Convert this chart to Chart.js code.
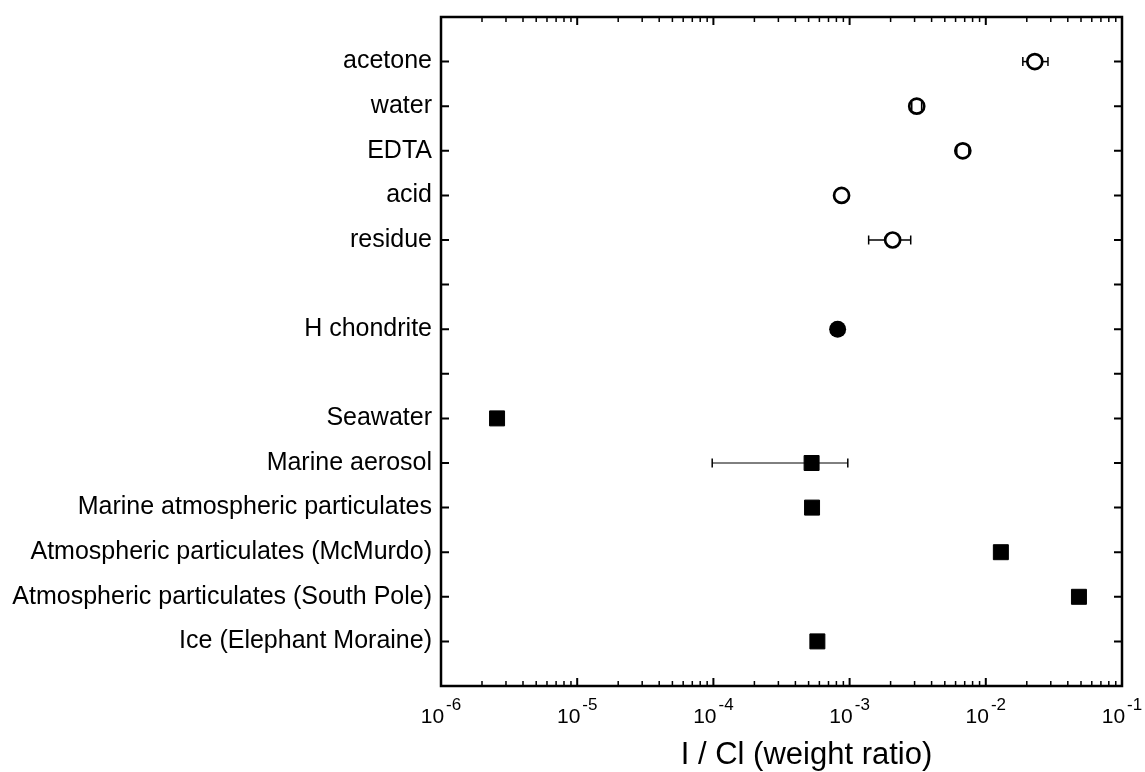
<!DOCTYPE html>
<html>
<head>
<meta charset="utf-8">
<script src="https://cdn.jsdelivr.net/npm/chart.js@4.4.1/dist/chart.umd.min.js"></script>
<style>
  html, body { margin: 0; padding: 0; background: #fff; }
  #wrap { width: 1145px; height: 772px; position: relative; }
</style>
</head>
<body>
<div id="wrap"><canvas id="c"></canvas></div>
<script>
// ---- Data ----
const rowLabels = ['', 'acetone', 'water', 'EDTA', 'acid', 'residue', '', 'H chondrite', '',
  'Seawater', 'Marine aerosol', 'Marine atmospheric particulates',
  'Atmospheric particulates (McMurdo)', 'Atmospheric particulates (South Pole)',
  'Ice (Elephant Moraine)', ''];

// open circles (extraction fractions)
const openCats   = ['acetone', 'water', 'EDTA', 'acid', 'residue'];
const openValues = [0.0229, 0.00311, 0.00678, 0.000873, 0.00207];
const openLow    = [0.0187, 0.00286, 0.00612, null, 0.00138];
const openHigh   = [0.0286, 0.00338, 0.00751, null, 0.00281];

// filled circle
const chondCats   = ['H chondrite'];
const chondValues = [0.000817];

// filled squares
const sqCats   = ['Seawater', 'Marine aerosol', 'Marine atmospheric particulates',
  'Atmospheric particulates (McMurdo)', 'Atmospheric particulates (South Pole)', 'Ice (Elephant Moraine)'];
const sqValues = [2.58e-6, 0.000526, 0.00053, 0.0129, 0.0483, 0.00058];
const sqLow    = [null, 0.000098, null, null, null, null];
const sqHigh   = [null, 0.00097, null, null, null, null];

// x axis ticks
const xDecades   = [1e-6, 1e-5, 1e-4, 1e-3, 1e-2, 1e-1];
const xExponents = ['-6', '-5', '-4', '-3', '-2', '-1'];
const xTitle = 'I / Cl (weight ratio)';

const FONT = "'Liberation Sans', Arial, Helvetica, sans-serif";

function pts(cats, vals) {
  return cats.map((c, i) => ({ x: vals[i], y: rowLabels.indexOf(c) }));
}

const framePlugin = {
  id: 'frame',
  beforeDatasetsDraw(chart) {
    const ctx = chart.ctx;
    const xs = chart.scales.x, ys = chart.scales.y;
    ctx.save();
    ctx.strokeStyle = '#000';
    chart.data.datasets.forEach(ds => {
      if (!ds.errLow) return;
      ds.data.forEach((p, i) => {
        const lo = ds.errLow[i], hi = ds.errHigh[i];
        if (lo == null || hi == null) return;
        const y = ys.getPixelForValue(p.y);
        ctx.lineWidth = ds.errWidth[i];
        ctx.beginPath();
        ctx.moveTo(xs.getPixelForValue(lo), y);
        ctx.lineTo(xs.getPixelForValue(hi), y);
        ctx.stroke();
      });
    });
    ctx.restore();
  },
  afterDatasetsDraw(chart) {
    const ctx = chart.ctx;
    const xs = chart.scales.x, ys = chart.scales.y;
    ctx.save();
    ctx.strokeStyle = '#000';
    chart.data.datasets.forEach(ds => {
      if (!ds.errLow) return;
      ds.data.forEach((p, i) => {
        const lo = ds.errLow[i], hi = ds.errHigh[i];
        if (lo == null || hi == null) return;
        const y = ys.getPixelForValue(p.y);
        ctx.lineWidth = 1.5;
        [lo, hi].forEach(v => {
          const x = xs.getPixelForValue(v);
          ctx.beginPath();
          ctx.moveTo(x, y - 4.5);
          ctx.lineTo(x, y + 4.5);
          ctx.stroke();
        });
      });
    });
    ctx.restore();
  },
  afterDraw(chart) {
    const ctx = chart.ctx;
    const a = chart.chartArea;
    const xs = chart.scales.x, ys = chart.scales.y;
    ctx.save();
    ctx.strokeStyle = '#000';
    // ticks
    ctx.lineWidth = 2;
    for (let v = 1; v <= 14; v++) {
      const y = ys.getPixelForValue(v);
      ctx.beginPath();
      ctx.moveTo(a.left, y); ctx.lineTo(a.left + 8, y);
      ctx.moveTo(a.right, y); ctx.lineTo(a.right - 8, y);
      ctx.stroke();
    }
    for (let d = 0; d < xDecades.length; d++) {
      const base = xDecades[d];
      const x = xs.getPixelForValue(base);
      ctx.lineWidth = 2;
      ctx.beginPath();
      ctx.moveTo(x, a.bottom); ctx.lineTo(x, a.bottom - 8);
      ctx.moveTo(x, a.top); ctx.lineTo(x, a.top + 8);
      ctx.stroke();
      if (d < xDecades.length - 1) {
        ctx.lineWidth = 1.5;
        for (let m = 2; m <= 9; m++) {
          const xm = xs.getPixelForValue(base * m);
          ctx.beginPath();
          ctx.moveTo(xm, a.bottom); ctx.lineTo(xm, a.bottom - 5);
          ctx.moveTo(xm, a.top); ctx.lineTo(xm, a.top + 5);
          ctx.stroke();
        }
      }
    }
    // frame
    ctx.lineWidth = 2.5;
    ctx.strokeRect(a.left, a.top, a.right - a.left, a.bottom - a.top);
    // x tick labels with superscript exponents
    ctx.fillStyle = '#000';
    ctx.textBaseline = 'alphabetic';
    const bigFont = '21px ' + FONT, smallFont = '17px ' + FONT;
    xDecades.forEach((v, i) => {
      const x = xs.getPixelForValue(v);
      ctx.font = bigFont;
      const w1 = ctx.measureText('10').width;
      ctx.font = smallFont;
      const w2 = ctx.measureText(xExponents[i]).width;
      const start = x - (w1 + 2 + w2) / 2;
      ctx.font = bigFont;
      ctx.textAlign = 'left';
      ctx.fillText('10', start, a.bottom + 37);
      ctx.font = smallFont;
      ctx.fillText(xExponents[i], start + w1 + 2, a.bottom + 24);
    });
    // x axis title
    ctx.font = '31px ' + FONT;
    ctx.textAlign = 'center';
    ctx.fillText(xTitle, (a.left + a.right) / 2 + 25, a.bottom + 78);
    ctx.restore();
  }
};

new Chart(document.getElementById('c'), {
  type: 'scatter',
  data: {
    datasets: [
      {
        label: 'fractions',
        data: pts(openCats, openValues),
        errLow: openLow, errHigh: openHigh,
        errWidth: [1.5, 1.5, 1.5, 1.5, 1.5],
        pointStyle: 'circle', pointRadius: 7.5, pointHoverRadius: 7.5,
        borderWidth: 2.7, borderColor: '#000', backgroundColor: '#fff'
      },
      {
        label: 'chondrite',
        data: pts(chondCats, chondValues),
        pointStyle: 'circle', pointRadius: 8.5, pointHoverRadius: 8.5,
        borderWidth: 0, borderColor: '#000', backgroundColor: '#000'
      },
      {
        label: 'environmental',
        data: pts(sqCats, sqValues),
        errLow: sqLow, errHigh: sqHigh,
        errWidth: [1, 1, 1, 1, 1, 1],
        pointStyle: 'rect', pointRadius: 10.6, pointHoverRadius: 10.6,
        borderWidth: 1, borderColor: '#000', backgroundColor: '#000'
      }
    ]
  },
  options: {
    responsive: true,
    maintainAspectRatio: false,
    animation: false,
    events: [],
    layout: { padding: { left: 0, right: 23, top: 17, bottom: 0 } },
    plugins: { legend: { display: false }, tooltip: { enabled: false } },
    scales: {
      x: {
        type: 'logarithmic',
        min: 1e-6, max: 1e-1,
        grid: { display: false, drawTicks: false },
        border: { display: false },
        ticks: { display: false },
        title: { display: false, text: xTitle },
        afterFit(s) { s.height = 86; s.paddingLeft = 0; s.paddingRight = 0; }
      },
      y: {
        type: 'linear',
        min: 0, max: 15, reverse: true,
        grid: { display: false, drawTicks: false },
        border: { display: false },
        ticks: {
          stepSize: 1, autoSkip: false, padding: 9, color: '#000',
          font: { family: FONT, size: 25 },
          callback: (v) => rowLabels[v] || ''
        },
        afterFit(s) { s.width = 441; s.paddingTop = 0; s.paddingBottom = 0; }
      }
    }
  },
  plugins: [framePlugin]
});
</script>
</body>
</html>
